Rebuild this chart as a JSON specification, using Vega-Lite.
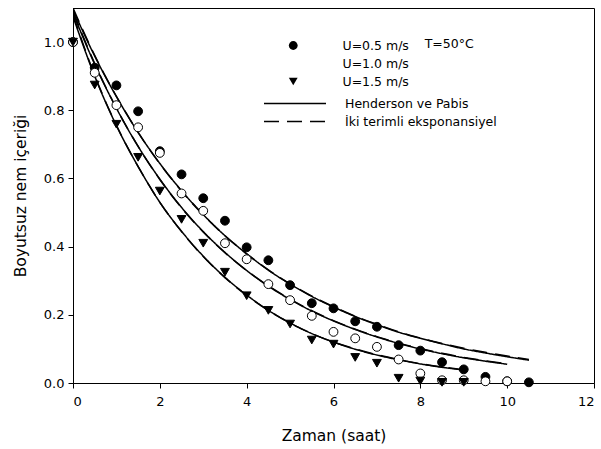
{
  "$schema": "https://vega.github.io/schema/vega-lite/v6.json",
  "width": 521,
  "height": 375,
  "autosize": {"type": "none"},
  "padding": {"left": 73, "top": 8, "right": 7, "bottom": 66},
  "background": "white",
  "config": {
    "view": {"stroke": "black", "strokeWidth": 1},
    "font": "DejaVu Sans",
    "axis": {
      "grid": false,
      "domainColor": "black",
      "tickColor": "black",
      "tickSize": 5,
      "labelFont": "DejaVu Sans",
      "labelFontSize": 13,
      "labelColor": "black",
      "titleFont": "DejaVu Sans",
      "titleFontSize": 15.5,
      "titleFontWeight": "normal",
      "titleColor": "black"
    },
    "legend": {
      "labelFont": "DejaVu Sans",
      "labelFontSize": 12.5,
      "labelColor": "black"
    }
  },
  "datasets": {
    "points": [
      {"t": 0, "y": 1.0, "U": "U=0.5 m/s"},
      {"t": 0.5, "y": 0.925, "U": "U=0.5 m/s"},
      {"t": 1, "y": 0.873, "U": "U=0.5 m/s"},
      {"t": 1.5, "y": 0.797, "U": "U=0.5 m/s"},
      {"t": 2, "y": 0.68, "U": "U=0.5 m/s"},
      {"t": 2.5, "y": 0.612, "U": "U=0.5 m/s"},
      {"t": 3, "y": 0.542, "U": "U=0.5 m/s"},
      {"t": 3.5, "y": 0.476, "U": "U=0.5 m/s"},
      {"t": 4, "y": 0.398, "U": "U=0.5 m/s"},
      {"t": 4.5, "y": 0.36, "U": "U=0.5 m/s"},
      {"t": 5, "y": 0.287, "U": "U=0.5 m/s"},
      {"t": 5.5, "y": 0.234, "U": "U=0.5 m/s"},
      {"t": 6, "y": 0.219, "U": "U=0.5 m/s"},
      {"t": 6.5, "y": 0.181, "U": "U=0.5 m/s"},
      {"t": 7, "y": 0.165, "U": "U=0.5 m/s"},
      {"t": 7.5, "y": 0.111, "U": "U=0.5 m/s"},
      {"t": 8, "y": 0.095, "U": "U=0.5 m/s"},
      {"t": 8.5, "y": 0.061, "U": "U=0.5 m/s"},
      {"t": 9, "y": 0.04, "U": "U=0.5 m/s"},
      {"t": 9.5, "y": 0.018, "U": "U=0.5 m/s"},
      {"t": 10, "y": 0.005, "U": "U=0.5 m/s"},
      {"t": 10.5, "y": 0.002, "U": "U=0.5 m/s"},
      {"t": 0, "y": 1.0, "U": "U=1.0 m/s"},
      {"t": 0.5, "y": 0.91, "U": "U=1.0 m/s"},
      {"t": 1, "y": 0.815, "U": "U=1.0 m/s"},
      {"t": 1.5, "y": 0.75, "U": "U=1.0 m/s"},
      {"t": 2, "y": 0.675, "U": "U=1.0 m/s"},
      {"t": 2.5, "y": 0.556, "U": "U=1.0 m/s"},
      {"t": 3, "y": 0.505, "U": "U=1.0 m/s"},
      {"t": 3.5, "y": 0.41, "U": "U=1.0 m/s"},
      {"t": 4, "y": 0.363, "U": "U=1.0 m/s"},
      {"t": 4.5, "y": 0.29, "U": "U=1.0 m/s"},
      {"t": 5, "y": 0.243, "U": "U=1.0 m/s"},
      {"t": 5.5, "y": 0.197, "U": "U=1.0 m/s"},
      {"t": 6, "y": 0.15, "U": "U=1.0 m/s"},
      {"t": 6.5, "y": 0.131, "U": "U=1.0 m/s"},
      {"t": 7, "y": 0.106, "U": "U=1.0 m/s"},
      {"t": 7.5, "y": 0.069, "U": "U=1.0 m/s"},
      {"t": 8, "y": 0.028, "U": "U=1.0 m/s"},
      {"t": 8.5, "y": 0.008, "U": "U=1.0 m/s"},
      {"t": 9, "y": 0.008, "U": "U=1.0 m/s"},
      {"t": 9.5, "y": 0.005, "U": "U=1.0 m/s"},
      {"t": 10, "y": 0.005, "U": "U=1.0 m/s"},
      {"t": 0, "y": 1.0, "U": "U=1.5 m/s"},
      {"t": 0.5, "y": 0.874, "U": "U=1.5 m/s"},
      {"t": 1, "y": 0.759, "U": "U=1.5 m/s"},
      {"t": 1.5, "y": 0.662, "U": "U=1.5 m/s"},
      {"t": 2, "y": 0.563, "U": "U=1.5 m/s"},
      {"t": 2.5, "y": 0.48, "U": "U=1.5 m/s"},
      {"t": 3, "y": 0.41, "U": "U=1.5 m/s"},
      {"t": 3.5, "y": 0.325, "U": "U=1.5 m/s"},
      {"t": 4, "y": 0.256, "U": "U=1.5 m/s"},
      {"t": 4.5, "y": 0.213, "U": "U=1.5 m/s"},
      {"t": 5, "y": 0.173, "U": "U=1.5 m/s"},
      {"t": 5.5, "y": 0.126, "U": "U=1.5 m/s"},
      {"t": 6, "y": 0.114, "U": "U=1.5 m/s"},
      {"t": 6.5, "y": 0.075, "U": "U=1.5 m/s"},
      {"t": 7, "y": 0.058, "U": "U=1.5 m/s"},
      {"t": 7.5, "y": 0.014, "U": "U=1.5 m/s"},
      {"t": 8, "y": 0.006, "U": "U=1.5 m/s"},
      {"t": 8.5, "y": 0.002, "U": "U=1.5 m/s"},
      {"t": 9, "y": 0.002, "U": "U=1.5 m/s"}
    ],
    "curves": [
      {"t": 0, "y": 1.095, "s": "a", "model": "Henderson ve Pabis"},
      {"t": 0.5, "y": 0.959, "s": "a", "model": "Henderson ve Pabis"},
      {"t": 1, "y": 0.84, "s": "a", "model": "Henderson ve Pabis"},
      {"t": 1.5, "y": 0.735, "s": "a", "model": "Henderson ve Pabis"},
      {"t": 2, "y": 0.644, "s": "a", "model": "Henderson ve Pabis"},
      {"t": 2.5, "y": 0.564, "s": "a", "model": "Henderson ve Pabis"},
      {"t": 3, "y": 0.494, "s": "a", "model": "Henderson ve Pabis"},
      {"t": 3.5, "y": 0.432, "s": "a", "model": "Henderson ve Pabis"},
      {"t": 4, "y": 0.379, "s": "a", "model": "Henderson ve Pabis"},
      {"t": 4.5, "y": 0.331, "s": "a", "model": "Henderson ve Pabis"},
      {"t": 5, "y": 0.29, "s": "a", "model": "Henderson ve Pabis"},
      {"t": 5.5, "y": 0.254, "s": "a", "model": "Henderson ve Pabis"},
      {"t": 6, "y": 0.223, "s": "a", "model": "Henderson ve Pabis"},
      {"t": 6.5, "y": 0.195, "s": "a", "model": "Henderson ve Pabis"},
      {"t": 7, "y": 0.171, "s": "a", "model": "Henderson ve Pabis"},
      {"t": 7.5, "y": 0.149, "s": "a", "model": "Henderson ve Pabis"},
      {"t": 8, "y": 0.131, "s": "a", "model": "Henderson ve Pabis"},
      {"t": 8.5, "y": 0.115, "s": "a", "model": "Henderson ve Pabis"},
      {"t": 9, "y": 0.1, "s": "a", "model": "Henderson ve Pabis"},
      {"t": 9.5, "y": 0.088, "s": "a", "model": "Henderson ve Pabis"},
      {"t": 10, "y": 0.077, "s": "a", "model": "Henderson ve Pabis"},
      {"t": 10.5, "y": 0.067, "s": "a", "model": "Henderson ve Pabis"},
      {"t": 0, "y": 1.085, "s": "b", "model": "Henderson ve Pabis"},
      {"t": 0.5, "y": 0.935, "s": "b", "model": "Henderson ve Pabis"},
      {"t": 1, "y": 0.806, "s": "b", "model": "Henderson ve Pabis"},
      {"t": 1.5, "y": 0.694, "s": "b", "model": "Henderson ve Pabis"},
      {"t": 2, "y": 0.598, "s": "b", "model": "Henderson ve Pabis"},
      {"t": 2.5, "y": 0.515, "s": "b", "model": "Henderson ve Pabis"},
      {"t": 3, "y": 0.444, "s": "b", "model": "Henderson ve Pabis"},
      {"t": 3.5, "y": 0.383, "s": "b", "model": "Henderson ve Pabis"},
      {"t": 4, "y": 0.33, "s": "b", "model": "Henderson ve Pabis"},
      {"t": 4.5, "y": 0.284, "s": "b", "model": "Henderson ve Pabis"},
      {"t": 5, "y": 0.245, "s": "b", "model": "Henderson ve Pabis"},
      {"t": 5.5, "y": 0.211, "s": "b", "model": "Henderson ve Pabis"},
      {"t": 6, "y": 0.182, "s": "b", "model": "Henderson ve Pabis"},
      {"t": 6.5, "y": 0.157, "s": "b", "model": "Henderson ve Pabis"},
      {"t": 7, "y": 0.135, "s": "b", "model": "Henderson ve Pabis"},
      {"t": 7.5, "y": 0.116, "s": "b", "model": "Henderson ve Pabis"},
      {"t": 8, "y": 0.1, "s": "b", "model": "Henderson ve Pabis"},
      {"t": 8.5, "y": 0.086, "s": "b", "model": "Henderson ve Pabis"},
      {"t": 9, "y": 0.074, "s": "b", "model": "Henderson ve Pabis"},
      {"t": 9.5, "y": 0.064, "s": "b", "model": "Henderson ve Pabis"},
      {"t": 10, "y": 0.055, "s": "b", "model": "Henderson ve Pabis"},
      {"t": 0, "y": 1.075, "s": "c", "model": "Henderson ve Pabis"},
      {"t": 0.5, "y": 0.9, "s": "c", "model": "Henderson ve Pabis"},
      {"t": 1, "y": 0.755, "s": "c", "model": "Henderson ve Pabis"},
      {"t": 1.5, "y": 0.635, "s": "c", "model": "Henderson ve Pabis"},
      {"t": 2, "y": 0.53, "s": "c", "model": "Henderson ve Pabis"},
      {"t": 2.5, "y": 0.445, "s": "c", "model": "Henderson ve Pabis"},
      {"t": 3, "y": 0.372, "s": "c", "model": "Henderson ve Pabis"},
      {"t": 3.5, "y": 0.31, "s": "c", "model": "Henderson ve Pabis"},
      {"t": 4, "y": 0.258, "s": "c", "model": "Henderson ve Pabis"},
      {"t": 4.5, "y": 0.213, "s": "c", "model": "Henderson ve Pabis"},
      {"t": 5, "y": 0.176, "s": "c", "model": "Henderson ve Pabis"},
      {"t": 5.5, "y": 0.145, "s": "c", "model": "Henderson ve Pabis"},
      {"t": 6, "y": 0.12, "s": "c", "model": "Henderson ve Pabis"},
      {"t": 6.5, "y": 0.099, "s": "c", "model": "Henderson ve Pabis"},
      {"t": 7, "y": 0.082, "s": "c", "model": "Henderson ve Pabis"},
      {"t": 7.5, "y": 0.068, "s": "c", "model": "Henderson ve Pabis"},
      {"t": 8, "y": 0.056, "s": "c", "model": "Henderson ve Pabis"},
      {"t": 8.5, "y": 0.046, "s": "c", "model": "Henderson ve Pabis"},
      {"t": 9, "y": 0.038, "s": "c", "model": "Henderson ve Pabis"},
      {"t": 0, "y": 1.1, "s": "a", "model": "İki terimli eksponansiyel"},
      {"t": 0.5, "y": 0.961, "s": "a", "model": "İki terimli eksponansiyel"},
      {"t": 1, "y": 0.841, "s": "a", "model": "İki terimli eksponansiyel"},
      {"t": 1.5, "y": 0.735, "s": "a", "model": "İki terimli eksponansiyel"},
      {"t": 2, "y": 0.643, "s": "a", "model": "İki terimli eksponansiyel"},
      {"t": 2.5, "y": 0.563, "s": "a", "model": "İki terimli eksponansiyel"},
      {"t": 3, "y": 0.493, "s": "a", "model": "İki terimli eksponansiyel"},
      {"t": 3.5, "y": 0.432, "s": "a", "model": "İki terimli eksponansiyel"},
      {"t": 4, "y": 0.379, "s": "a", "model": "İki terimli eksponansiyel"},
      {"t": 4.5, "y": 0.332, "s": "a", "model": "İki terimli eksponansiyel"},
      {"t": 5, "y": 0.291, "s": "a", "model": "İki terimli eksponansiyel"},
      {"t": 5.5, "y": 0.255, "s": "a", "model": "İki terimli eksponansiyel"},
      {"t": 6, "y": 0.224, "s": "a", "model": "İki terimli eksponansiyel"},
      {"t": 6.5, "y": 0.196, "s": "a", "model": "İki terimli eksponansiyel"},
      {"t": 7, "y": 0.172, "s": "a", "model": "İki terimli eksponansiyel"},
      {"t": 7.5, "y": 0.15, "s": "a", "model": "İki terimli eksponansiyel"},
      {"t": 8, "y": 0.132, "s": "a", "model": "İki terimli eksponansiyel"},
      {"t": 8.5, "y": 0.116, "s": "a", "model": "İki terimli eksponansiyel"},
      {"t": 9, "y": 0.102, "s": "a", "model": "İki terimli eksponansiyel"},
      {"t": 9.5, "y": 0.09, "s": "a", "model": "İki terimli eksponansiyel"},
      {"t": 10, "y": 0.079, "s": "a", "model": "İki terimli eksponansiyel"},
      {"t": 10.5, "y": 0.069, "s": "a", "model": "İki terimli eksponansiyel"},
      {"t": 0, "y": 1.09, "s": "b", "model": "İki terimli eksponansiyel"},
      {"t": 0.5, "y": 0.937, "s": "b", "model": "İki terimli eksponansiyel"},
      {"t": 1, "y": 0.806, "s": "b", "model": "İki terimli eksponansiyel"},
      {"t": 1.5, "y": 0.694, "s": "b", "model": "İki terimli eksponansiyel"},
      {"t": 2, "y": 0.597, "s": "b", "model": "İki terimli eksponansiyel"},
      {"t": 2.5, "y": 0.514, "s": "b", "model": "İki terimli eksponansiyel"},
      {"t": 3, "y": 0.443, "s": "b", "model": "İki terimli eksponansiyel"},
      {"t": 3.5, "y": 0.382, "s": "b", "model": "İki terimli eksponansiyel"},
      {"t": 4, "y": 0.33, "s": "b", "model": "İki terimli eksponansiyel"},
      {"t": 4.5, "y": 0.285, "s": "b", "model": "İki terimli eksponansiyel"},
      {"t": 5, "y": 0.246, "s": "b", "model": "İki terimli eksponansiyel"},
      {"t": 5.5, "y": 0.212, "s": "b", "model": "İki terimli eksponansiyel"},
      {"t": 6, "y": 0.183, "s": "b", "model": "İki terimli eksponansiyel"},
      {"t": 6.5, "y": 0.158, "s": "b", "model": "İki terimli eksponansiyel"},
      {"t": 7, "y": 0.136, "s": "b", "model": "İki terimli eksponansiyel"},
      {"t": 7.5, "y": 0.117, "s": "b", "model": "İki terimli eksponansiyel"},
      {"t": 8, "y": 0.101, "s": "b", "model": "İki terimli eksponansiyel"},
      {"t": 8.5, "y": 0.087, "s": "b", "model": "İki terimli eksponansiyel"},
      {"t": 9, "y": 0.075, "s": "b", "model": "İki terimli eksponansiyel"},
      {"t": 9.5, "y": 0.065, "s": "b", "model": "İki terimli eksponansiyel"},
      {"t": 10, "y": 0.056, "s": "b", "model": "İki terimli eksponansiyel"},
      {"t": 0, "y": 1.08, "s": "c", "model": "İki terimli eksponansiyel"},
      {"t": 0.5, "y": 0.902, "s": "c", "model": "İki terimli eksponansiyel"},
      {"t": 1, "y": 0.756, "s": "c", "model": "İki terimli eksponansiyel"},
      {"t": 1.5, "y": 0.635, "s": "c", "model": "İki terimli eksponansiyel"},
      {"t": 2, "y": 0.53, "s": "c", "model": "İki terimli eksponansiyel"},
      {"t": 2.5, "y": 0.444, "s": "c", "model": "İki terimli eksponansiyel"},
      {"t": 3, "y": 0.371, "s": "c", "model": "İki terimli eksponansiyel"},
      {"t": 3.5, "y": 0.309, "s": "c", "model": "İki terimli eksponansiyel"},
      {"t": 4, "y": 0.257, "s": "c", "model": "İki terimli eksponansiyel"},
      {"t": 4.5, "y": 0.213, "s": "c", "model": "İki terimli eksponansiyel"},
      {"t": 5, "y": 0.176, "s": "c", "model": "İki terimli eksponansiyel"},
      {"t": 5.5, "y": 0.145, "s": "c", "model": "İki terimli eksponansiyel"},
      {"t": 6, "y": 0.12, "s": "c", "model": "İki terimli eksponansiyel"},
      {"t": 6.5, "y": 0.1, "s": "c", "model": "İki terimli eksponansiyel"},
      {"t": 7, "y": 0.083, "s": "c", "model": "İki terimli eksponansiyel"},
      {"t": 7.5, "y": 0.069, "s": "c", "model": "İki terimli eksponansiyel"},
      {"t": 8, "y": 0.057, "s": "c", "model": "İki terimli eksponansiyel"},
      {"t": 8.5, "y": 0.047, "s": "c", "model": "İki terimli eksponansiyel"},
      {"t": 9, "y": 0.039, "s": "c", "model": "İki terimli eksponansiyel"}
    ],
    "note": [{"label": "T=50°C"}]
  },
  "layer": [
    {
      "data": {"name": "curves"},
      "mark": {"type": "line", "color": "black", "strokeWidth": 1.5, "interpolate": "monotone", "clip": true},
      "encoding": {
        "x": {
          "field": "t", "type": "quantitative",
          "scale": {"domain": [0, 12], "nice": false},
          "axis": {"title": "Zaman (saat)", "values": [0, 2, 4, 6, 8, 10, 12], "titlePadding": 20, "labelPadding": 7}
        },
        "y": {
          "field": "y", "type": "quantitative",
          "scale": {"domain": [0, 1.1], "nice": false},
          "axis": {"title": "Boyutsuz nem içeriği", "values": [0, 0.2, 0.4, 0.6, 0.8, 1.0], "format": ".1f", "titlePadding": 15, "labelPadding": 4}
        },
        "detail": {"field": "s"},
        "strokeDash": {
          "field": "model", "type": "nominal",
          "scale": {"domain": ["Henderson ve Pabis", "İki terimli eksponansiyel"], "range": [[1, 0], [15, 8]]},
          "legend": {
            "title": null, "orient": "none", "legendX": 190, "legendY": 89,
            "symbolType": "stroke", "symbolSize": 3844, "symbolStrokeWidth": 1.5,
            "symbolStrokeColor": "black", "labelOffset": 18, "rowPadding": 5, "clipHeight": 13
          }
        }
      }
    },
    {
      "data": {"name": "points"},
      "mark": {"type": "point", "filled": false, "stroke": "black", "strokeWidth": 1, "opacity": 1},
      "encoding": {
        "x": {"field": "t", "type": "quantitative"},
        "y": {"field": "y", "type": "quantitative"},
        "shape": {
          "field": "U", "type": "nominal",
          "scale": {"domain": ["U=0.5 m/s", "U=1.0 m/s", "U=1.5 m/s"], "range": ["circle", "circle", "triangle-down"]},
          "legend": {
            "title": null, "orient": "none", "legendX": 214, "legendY": 31,
            "labelOffset": 43, "rowPadding": 5, "clipHeight": 13, "symbolStrokeColor": "black"
          }
        },
        "fill": {
          "field": "U", "type": "nominal",
          "scale": {"domain": ["U=0.5 m/s", "U=1.0 m/s", "U=1.5 m/s"], "range": ["black", "white", "black"]},
          "legend": {
            "title": null, "orient": "none", "legendX": 214, "legendY": 31,
            "labelOffset": 43, "rowPadding": 5, "clipHeight": 13, "symbolStrokeColor": "black"
          }
        },
        "size": {
          "field": "U", "type": "nominal",
          "scale": {"domain": ["U=0.5 m/s", "U=1.0 m/s", "U=1.5 m/s"], "range": [78, 78, 95]},
          "legend": {
            "title": null, "orient": "none", "legendX": 214, "legendY": 31,
            "labelOffset": 43, "rowPadding": 5, "clipHeight": 13, "symbolStrokeColor": "black"
          }
        }
      }
    },
    {
      "data": {"name": "note"},
      "mark": {"type": "text", "align": "left", "baseline": "middle", "fontSize": 12.5, "font": "DejaVu Sans", "color": "black"},
      "encoding": {
        "x": {"datum": 8.1},
        "y": {"datum": 0.995},
        "text": {"field": "label"}
      }
    }
  ]
}
